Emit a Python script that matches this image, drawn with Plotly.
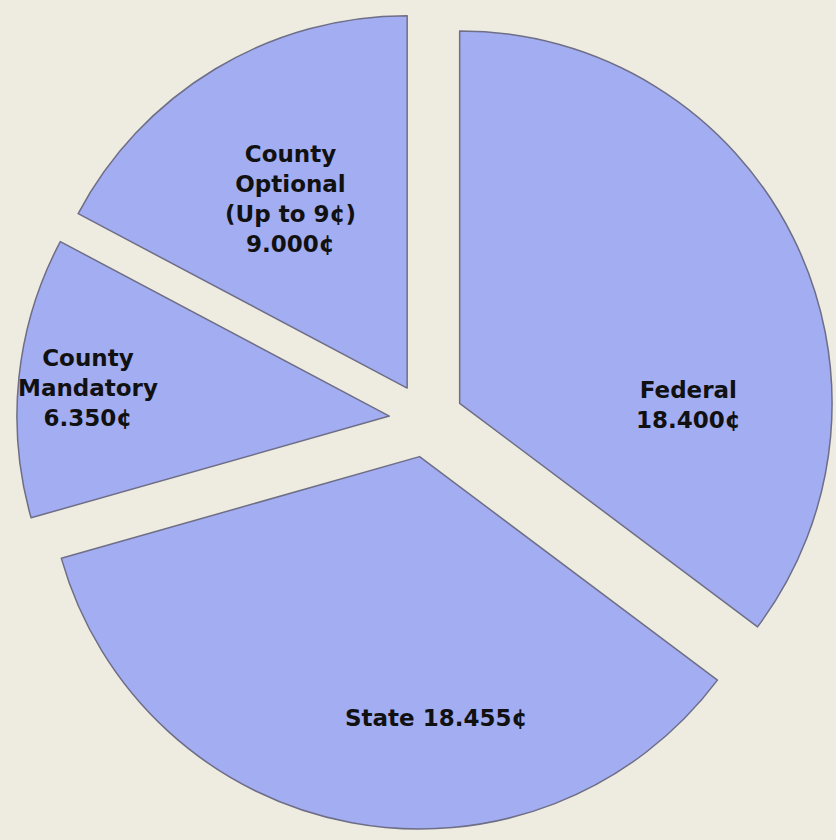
import plotly.graph_objects as go

labels = ["Federal", "State", "County Mandatory", "County Optional"]
values = [18.400, 18.455, 6.350, 9.000]
text_labels = ["Federal<br>18.400¢", "State 18.455¢", "County<br>Mandatory<br>6.350¢",
               "County<br>Optional<br>(Up to 9¢)<br>9.000¢"]
# label anchor positions (paper coords)
label_x = [0.823, 0.5215, 0.105, 0.347]
label_y = [0.518, 0.145, 0.538, 0.763]

fig = go.Figure(go.Pie(
    labels=labels,
    values=values,
    textinfo="none",
    sort=False,
    direction="clockwise",
    rotation=0,
    pull=[0.1, 0.1, 0.1, 0.1],
    marker=dict(colors=["#A3ADF2"] * 4, line=dict(color="#6e6e86", width=1.5)),
    showlegend=False,
    hoverinfo="label+value",
    domain=dict(x=[0.02, 1.0], y=[0.0, 1.0]),
))

for t, x, y in zip(text_labels, label_x, label_y):
    fig.add_annotation(
        x=x, y=y, xref="paper", yref="paper",
        text="<b>" + t + "</b>", showarrow=False,
        font=dict(family="DejaVu Sans", size=23, color="#111111"),
        align="center", xanchor="center", yanchor="middle",
    )

fig.update_layout(
    width=836, height=840,
    margin=dict(l=0, r=0, t=0, b=0),
    paper_bgcolor="#EEEBE0",
    plot_bgcolor="#EEEBE0",
)
fig.write_html("out.html", config={"displayModeBar": False},
               post_script="document.body.style.margin='0';document.body.style.background='#EEEBE0';")
